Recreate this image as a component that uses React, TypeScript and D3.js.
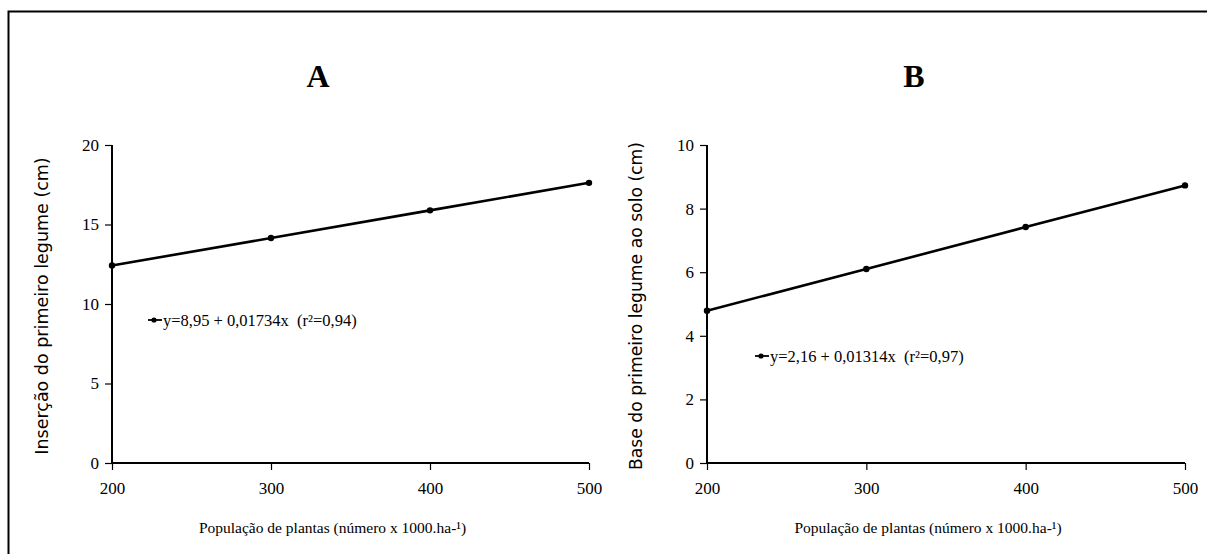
import React, { useEffect, useRef } from 'react';
import * as d3 from 'd3';

// Population levels (x 1000 plants per ha)
const populacao = [200, 300, 400, 500];
// Panel A: insertion height of the first pod (cm)
const insercaoA = [12.42, 14.15, 15.89, 17.62];
// Panel B: distance from pod base to soil (cm)
const baseB = [4.79, 6.1, 7.42, 8.73];

const xTicks = [200, 300, 400, 500];
const yTicksA = [0, 5, 10, 15, 20];
const yTicksB = [0, 2, 4, 6, 8, 10];

const legendA = 'y=8,95 + 0,01734x  (r²=0,94)';
const legendB = 'y=2,16 + 0,01314x  (r²=0,97)';

function App() {
  const chartRef = useRef<SVGSVGElement>(null);

  useEffect(() => {
    const width = 1209;
    const height = 554;
    const svg = d3.select(chartRef.current);
    svg.selectAll('*').remove();
    svg.attr('width', width).attr('height', height);

    // frame round the figure
    svg.append('path')
      .attr('d', `M8.5,${height} V11.5 H1207`)
      .attr('fill', 'none')
      .attr('stroke', '#000')
      .attr('stroke-width', 2);

    const serif = '"Liberation Serif", "Times New Roman", serif';

    const panels = [
      { title: 'A', titleX: 318, left: 112, right: 589, yMax: 20, yTicks: yTicksA, values: insercaoA,
        yLabel: 'Inserção do primeiro legume (cm)', yLabelX: 42, yLabelSize: 17.5, legend: legendA, legX: 148, legY: 320 },
      { title: 'B', titleX: 914, left: 707, right: 1185, yMax: 10, yTicks: yTicksB, values: baseB,
        yLabel: 'Base do primeiro legume ao solo (cm)', yLabelX: 636, yLabelSize: 17.2, legend: legendB, legX: 755, legY: 356 },
    ];

    panels.forEach(p => {
      const top = 145;
      const bottom = 463;
      const x = d3.scaleLinear().domain([200, 500]).range([p.left, p.right]);
      const y = d3.scaleLinear().domain([0, p.yMax]).range([bottom, top]);
      const g = svg.append('g');

      // title
      g.append('text')
        .attr('x', p.titleX)
        .attr('y', 87)
        .attr('text-anchor', 'middle')
        .style('font-family', serif)
        .style('font-weight', 'bold')
        .style('font-size', '32px')
        .text(p.title);

      // y axis
      const yAxis = g.append('g')
        .attr('transform', `translate(${p.left},0)`)
        .call(d3.axisLeft(y).tickValues(p.yTicks).tickSize(7).tickPadding(6).tickFormat(d3.format('d')));
      yAxis.select('.domain').attr('stroke-width', 2).attr('d', `M0,${top}V${bottom}`);
      yAxis.selectAll('.tick line').attr('stroke-width', 1.2);
      yAxis.selectAll('.tick text')
        .style('font-family', serif)
        .style('font-size', '17px')
        .attr('fill', '#000');

      // x axis
      const xAxis = g.append('g')
        .attr('transform', `translate(0,${bottom})`)
        .call(d3.axisBottom(x).tickValues(xTicks).tickSize(7).tickPadding(12).tickFormat(d3.format('d')));
      xAxis.select('.domain').attr('stroke-width', 2).attr('d', `M${p.left},0H${p.right}`);
      xAxis.selectAll('.tick line').attr('stroke-width', 1.2);
      xAxis.selectAll('.tick text')
        .style('font-family', serif)
        .style('font-size', '17px')
        .attr('fill', '#000');

      // axis titles
      g.append('text')
        .attr('transform', `translate(${p.yLabelX},${(top + bottom) / 2 + 2}) rotate(-90)`)
        .attr('text-anchor', 'middle')
        .attr('dy', '0.35em')
        .style('font-family', '"DejaVu Sans", sans-serif')
        .style('font-size', `${p.yLabelSize}px`)
        .text(p.yLabel);

      g.append('text')
        .attr('x', (p.left + p.right) / 2 - 18)
        .attr('y', 533)
        .attr('text-anchor', 'middle')
        .style('font-family', serif)
        .style('font-size', '15.5px')
        .text('População de plantas (número x 1000.ha-¹)');

      // regression line with markers
      const pts = populacao.map((d, i) => [d, p.values[i]] as [number, number]);
      const line = d3.line<[number, number]>().x(d => x(d[0])).y(d => y(d[1]));
      g.append('path')
        .attr('d', line(pts))
        .attr('fill', 'none')
        .attr('stroke', '#000')
        .attr('stroke-width', 2.6);
      g.selectAll('circle.pt')
        .data(pts)
        .enter()
        .append('circle')
        .attr('class', 'pt')
        .attr('cx', d => x(d[0]))
        .attr('cy', d => y(d[1]))
        .attr('r', 3.2)
        .attr('fill', '#000');

      // legend
      g.append('line')
        .attr('x1', p.legX).attr('x2', p.legX + 14)
        .attr('y1', p.legY).attr('y2', p.legY)
        .attr('stroke', '#000').attr('stroke-width', 1.8);
      g.append('circle')
        .attr('cx', p.legX + 6).attr('cy', p.legY).attr('r', 2.6).attr('fill', '#000');
      g.append('text')
        .attr('x', p.legX + 15)
        .attr('y', p.legY)
        .attr('dy', '0.35em')
        .style('font-family', serif)
        .style('font-size', '16.5px')
        .style('white-space', 'pre')
        .text(p.legend);
    });
  }, []);

  return (
    <div style={{ position: 'absolute', left: 0, top: 0 }}>
      <svg ref={chartRef} style={{ display: 'block', background: '#fff' }}></svg>
    </div>
  );
}

export default App;
